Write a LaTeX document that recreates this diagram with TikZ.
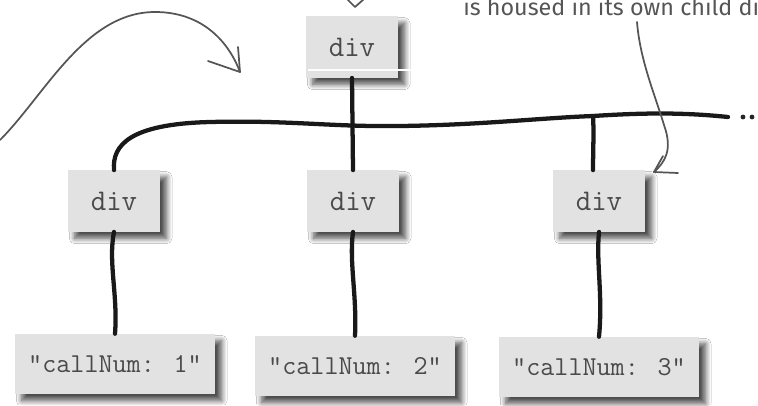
\documentclass[tikz,border=0pt]{standalone}
\usepackage{fontspec}
\newfontfamily\handfont{Fira Sans}
\usetikzlibrary{shadows.blur}
\definecolor{boxgray}{HTML}{E2E2E2}
\definecolor{txtgray}{HTML}{4A4A4A}
\definecolor{pengray}{HTML}{555555}
\tikzset{
  elem/.style={fill=boxgray, draw=none, inner sep=0pt,
    blur shadow={shadow xshift=5pt, shadow yshift=-5pt, shadow blur steps=10, shadow opacity=70, shadow blur radius=4pt},
    text=txtgray},
  divbox/.style={elem, minimum width=69pt, minimum height=46pt, font=\ttfamily\fontsize{22.5}{22.5}\selectfont},
  txtbox/.style={elem, minimum width=150pt, minimum height=45pt, font=\ttfamily\fontsize{20.5}{20.5}\selectfont},
  link/.style={line width=3.2pt, black!90, line cap=round},
  pen/.style={line width=1.3pt, pengray, line cap=round, line join=round}
}
\begin{document}
\begin{tikzpicture}[x=0.75pt,y=-0.75pt]
\useasboundingbox (0,0) rectangle (758,405);
\clip (0,0) rectangle (758,405);
\fill[white] (0,0) rectangle (758,405);
% nodes
\node[divbox] (top) at (352,47) {div};
\node[divbox] (d1) at (114,201) {div};
\node[divbox] (d2) at (353,201) {div};
\node[divbox] (d3) at (599,201) {div};
\node[txtbox] (c1) at (115,364) {"callNum: 1"};
\node[txtbox] (c2) at (355,366) {"callNum: 2"};
\node[txtbox] (c3) at (599,367) {"callNum: 3"};
% white scratch line
\draw[white, line width=0.8pt] (308,70) -- (420,70);
% coordinates
\coordinate (barR) at (728,117);
\coordinate (j3) at (593,116);
% horizontal bar
\draw[link] (d1.north) .. controls (112,145) and (130,124) .. (210,122)
  .. controls (290,120) and (330,127) .. (400,126)
  .. controls (480,125) and (540,118) .. (j3)
  .. controls (640,113) and (680,112) .. (barR);
\fill[black!85] (743,117) circle (2.4) (752,117) circle (2.4);
% verticals
\draw[link] (top.south) -- (d2.north);
\draw[link] (j3) .. controls (594,130) and (593,155) .. (d3.north -| j3);
\draw[link] (d1.south) .. controls (108,262) and (118,295) .. (c1.north);
\draw[link] (d2.south) .. controls (349,262) and (357,295) .. (c2.north);
\draw[link] (d3.south) .. controls (596,262) and (603,295) .. (c3.north);
% annotations
\node[text=pengray, font=\handfont\fontsize{17.5}{17.5}\selectfont, anchor=base west, inner sep=0pt] (note) at (463,15) {is housed in its own child div};
\coordinate (a1s) at (0,140);
\coordinate (a1e) at (240,72);
\draw[pen] (a1s) .. controls (45,95) and (85,12) .. (155,12)
  .. controls (205,12) and (230,45) .. (a1e);
\draw[pen] (208,61) -- (a1e) -- (238,47);
\coordinate (a2s) at (637,22);
\coordinate (a2e) at (654,172);
\draw[pen] (a2s) .. controls (640,60) and (655,95) .. (664,125)
  .. controls (673,150) and (665,162) .. (a2e);
\draw[pen] (663,156) -- (a2e) -- (678,173);
\draw[pen] (347,-1) -- (355,7) -- (364,-1);
\end{tikzpicture}
\end{document}
